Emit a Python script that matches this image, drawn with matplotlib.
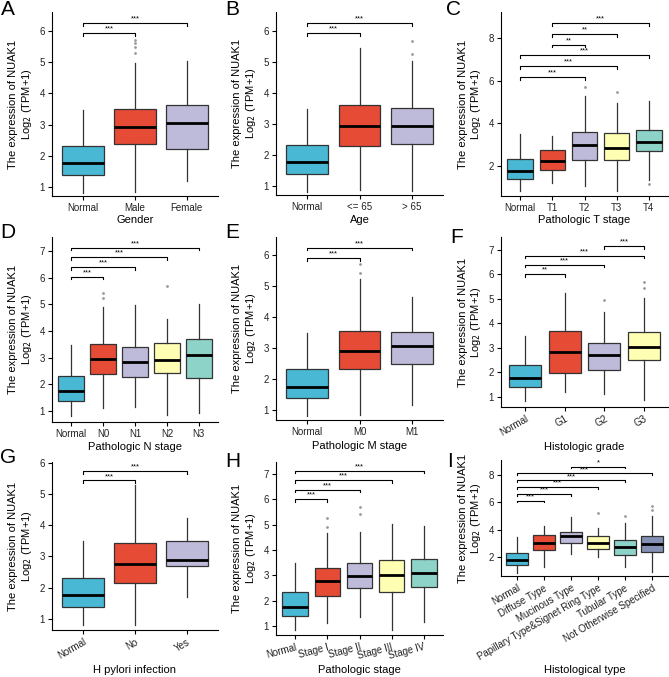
import numpy as np
import matplotlib.pyplot as plt

plt.switch_backend('agg')
plt.rcParams['font.family'] = ['Liberation Sans', 'DejaVu Sans']

# Box statistics per group: [whisker low, Q1, median, Q3, whisker high]
normal_box = [0.82, 1.39, 1.76, 2.32, 3.48]

gender_groups = ['Normal', 'Male', 'Female']
gender_boxes = [normal_box, [0.85, 2.39, 2.92, 3.49, 4.99], [1.18, 2.23, 3.06, 3.63, 5.04]]
gender_outliers = [[], [5.28, 5.48, 5.62, 5.71], []]
gender_tests = [(0, 1, '***'), (0, 2, '***')]

age_groups = ['Normal', '<= 65', '> 65']
age_boxes = [normal_box, [0.87, 2.29, 2.95, 3.61, 5.44], [0.84, 2.35, 2.93, 3.51, 5.03]]
age_outliers = [[], [], [5.25, 5.69]]
age_tests = [(0, 1, '***'), (0, 2, '***')]

t_groups = ['Normal', 'T1', 'T2', 'T3', 'T4']
t_boxes = [normal_box, [1.19, 1.84, 2.25, 2.75, 3.41], [1.08, 2.28, 2.97, 3.59, 5.28],
           [0.84, 2.28, 2.83, 3.53, 4.97], [1.37, 2.72, 3.14, 3.69, 5.06]]
t_outliers = [[], [], [5.72], [5.45], [1.14]]
t_tests = [(0, 2, '***'), (0, 3, '***'), (0, 4, '***'), (1, 2, '**'), (1, 3, '**'), (1, 4, '***')]

n_groups = ['Normal', 'N0', 'N1', 'N2', 'N3']
n_boxes = [normal_box, [1.12, 2.38, 2.95, 3.50, 4.91], [1.16, 2.29, 2.85, 3.41, 4.98],
           [0.85, 2.41, 2.91, 3.54, 4.45], [0.91, 2.25, 3.10, 3.70, 5.00]]
n_outliers = [[], [5.23, 5.41], [], [5.69], []]
n_tests = [(0, 1, '***'), (0, 2, '***'), (0, 3, '***'), (0, 4, '***')]

m_groups = ['Normal', 'M0', 'M1']
m_boxes = [normal_box, [0.84, 2.34, 2.90, 3.55, 5.23], [1.16, 2.50, 3.07, 3.53, 4.66]]
m_outliers = [[], [5.43, 5.70], []]
m_tests = [(0, 1, '***'), (0, 2, '***')]

grade_groups = ['Normal', 'G1', 'G2', 'G3']
grade_boxes = [normal_box, [1.22, 1.97, 2.85, 3.69, 5.23], [1.11, 2.10, 2.71, 3.19, 4.46],
               [0.88, 2.51, 3.05, 3.67, 5.03]]
grade_outliers = [[], [], [4.96], [5.44, 5.71]]
grade_tests = [(0, 1, '**'), (0, 2, '***'), (0, 3, '***'), (2, 3, '***')]

hp_groups = ['Normal', 'No', 'Yes']
hp_boxes = [normal_box, [0.81, 2.16, 2.77, 3.43, 5.27], [1.72, 2.69, 2.88, 3.49, 4.24]]
hp_outliers = [[], [], []]
hp_tests = [(0, 1, '***'), (0, 2, '***')]

stage_groups = ['Normal', 'Stage I', 'Stage II', 'Stage III', 'Stage IV']
stage_boxes = [normal_box, [1.13, 2.18, 2.79, 3.28, 4.68], [1.34, 2.49, 2.95, 3.47, 4.72],
               [0.84, 2.35, 2.99, 3.60, 5.03], [1.17, 2.53, 3.10, 3.63, 4.95]]
stage_outliers = [[], [4.92, 5.25], [5.42, 5.68], [], []]
stage_tests = [(0, 1, '***'), (0, 2, '***'), (0, 3, '***'), (0, 4, '***')]

type_groups = ['Normal', 'Diffuse Type', 'Mucinous Type', 'Papillary Type&Signet Ring Type',
               'Tubular Type', 'Not Otherwise Specified']
type_boxes = [normal_box, [1.24, 2.51, 3.05, 3.61, 4.27], [2.22, 3.00, 3.54, 3.85, 4.95],
              [1.98, 2.61, 3.05, 3.54, 4.10], [1.29, 2.15, 2.76, 3.25, 4.51],
              [0.93, 2.39, 2.93, 3.54, 5.00]]
type_outliers = [[], [], [], [5.24], [5.00], [5.44, 5.73]]
type_tests = [(0, 1, '***'), (0, 2, '***'), (0, 3, '***'), (0, 4, '***'), (0, 5, '***'), (2, 4, '*')]

palette = ['#48B8D5', '#E64B35', '#BEBADA', '#FFFFB3', '#8DD3C7', '#8491B4']

W, H = 669, 677
fig = plt.figure(figsize=(W / 100, H / 100), dpi=100)


def px_rect(l, t, r, b):
    return [l / W, 1 - b / H, (r - l) / W, (b - t) / H]


# letter, xlabel, data, axes box in pixels, ylim, yticks, bracket base/step,
# tick rotation, letter position (left, baseline), xlabel centre y
panels = [
    ('A', 'Gender', gender_groups, gender_boxes, gender_outliers, gender_tests,
     (52, 12, 218, 196), (0.71, 6.61), range(1, 7), 5.93, 0.32, 0, (1, 15), 220),
    ('B', 'Age', age_groups, age_boxes, age_outliers, age_tests,
     (276, 12, 443, 195), (0.71, 6.61), range(1, 7), 5.93, 0.32, 0, (225, 15), 220),
    ('C', 'Pathologic T stage', t_groups, t_boxes, t_outliers, t_tests,
     (501, 12, 668, 196), (0.6, 9.21), range(2, 9, 2), 6.18, 0.5, 0, (446, 15), 220),
    ('D', 'Pathologic N stage', n_groups, n_boxes, n_outliers, n_tests,
     (52, 237, 218, 422), (0.59, 7.52), range(1, 8), 6.04, 0.36, 0, (0, 238), 447),
    ('E', 'Pathologic M stage', m_groups, m_boxes, m_outliers, m_tests,
     (276, 237, 443, 420), (0.68, 6.58), range(1, 7), 5.91, 0.33, 0, (225, 238), 446),
    ('F', 'Histologic grade', grade_groups, grade_boxes, grade_outliers, grade_tests,
     (501, 237, 668, 407), (0.59, 7.53), range(1, 8), 6.01, 0.38, 30, (450, 243), 447),
    ('G', 'H pylori infection', hp_groups, hp_boxes, hp_outliers, hp_tests,
     (52, 462, 218, 630), (0.65, 6.02), range(1, 7), 5.43, 0.29, 30, (0, 463), 670),
    ('H', 'Pathologic stage', stage_groups, stage_boxes, stage_outliers, stage_tests,
     (276, 462, 443, 635), (0.64, 7.47), range(1, 8), 6.0, 0.377, 15, (225, 467), 670),
    ('I', 'Histological type', type_groups, type_boxes, type_outliers, type_tests,
     (501, 460, 668, 576), (0.61, 9.1), range(2, 9, 2), 6.12, 0.498, 30, (447, 467), 670),
]

for (letter, xlab, groups, boxes, outliers, tests, rect, ylim, yticks,
     base, step, rot, lpos, xlab_y) in panels:
    ax = fig.add_axes(px_rect(*rect))
    n = len(groups)
    pos = np.arange(1, n + 1)
    stats = [dict(label=g, whislo=b[0], q1=b[1], med=b[2], q3=b[3], whishi=b[4], fliers=o)
             for g, b, o in zip(groups, boxes, outliers)]
    art = ax.bxp(stats, positions=pos, widths=0.8, patch_artist=True, showcaps=False,
                 boxprops=dict(edgecolor='#333333', linewidth=0.9),
                 whiskerprops=dict(color='#333333', linewidth=0.9),
                 medianprops=dict(color='black', linewidth=2.0),
                 flierprops=dict(marker='o', markersize=2.0, markerfacecolor='#999999',
                                 markeredgecolor='none'))
    for patch, c in zip(art['boxes'], palette):
        patch.set_facecolor(c)

    ax.set_xlim(0.4, n + 0.6)
    ax.set_ylim(*ylim)
    ax.set_yticks(list(yticks))
    ax.set_xticks(pos)
    if rot:
        ax.set_xticklabels(groups, rotation=rot, ha='right', va='top', rotation_mode='anchor')
    else:
        ax.set_xticklabels(groups)

    # significance brackets
    drop = 0.015 * (ylim[1] - ylim[0])
    for i, (a, b, lab) in enumerate(tests):
        y = base + i * step
        ax.plot([a + 1, a + 1, b + 1, b + 1], [y - drop, y, y, y - drop], color='black', lw=0.8)
        ax.text((a + b) / 2 + 1, y + 0.2 * drop, lab, ha='center', va='bottom', fontsize=5.5)

    for s in ['top', 'right']:
        ax.spines[s].set_visible(False)
    for s in ['left', 'bottom']:
        ax.spines[s].set_linewidth(0.8)
    ax.tick_params(length=3, width=0.8, labelsize=7, pad=2, colors='black', labelcolor='#222222')

    height = rect[3] - rect[1]
    width = rect[2] - rect[0]
    ax.set_ylabel('The expression of NUAK1\nLog$_2$ (TPM+1)', fontsize=8, linespacing=1.1)
    ax.yaxis.label.set_va('center')
    ax.yaxis.set_label_coords(-31 / width, 0.5)
    ax.set_xlabel(xlab, fontsize=8)
    ax.xaxis.label.set_va('center')
    ax.xaxis.set_label_coords(0.5, -(xlab_y - rect[3]) / height)

    fig.text(lpos[0] / W, 1 - lpos[1] / H, letter, fontsize=15, ha='left', va='baseline')

plt.savefig('out.png', dpi=100)
